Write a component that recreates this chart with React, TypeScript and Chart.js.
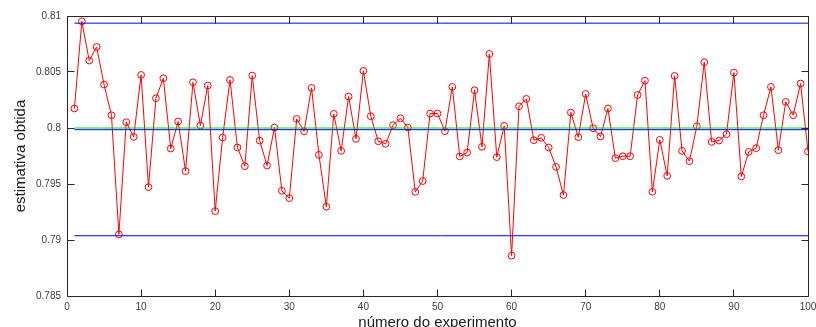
import React, { useEffect, useRef } from 'react';
import { Chart, registerables } from 'chart.js';

Chart.register(...registerables);

const estimates = [
  0.80174, 0.80952, 0.80602, 0.80724, 0.80388, 0.80114, 0.7905, 0.80052, 0.79921, 0.80474,
  0.79472, 0.80266, 0.80444, 0.79817, 0.80058, 0.79615, 0.80408, 0.80022, 0.80379, 0.79258,
  0.79915, 0.80429, 0.79826, 0.79659, 0.80468, 0.79888, 0.79665, 0.80004, 0.79439, 0.79374,
  0.80081, 0.79971, 0.80358, 0.7976, 0.79297, 0.80126, 0.79796, 0.80281, 0.79903, 0.8051,
  0.80105, 0.79882, 0.79859, 0.80025, 0.80087, 0.80004, 0.7943, 0.79526, 0.80129, 0.80129,
  0.79971, 0.80367, 0.79746, 0.79781, 0.80337, 0.79832, 0.80661, 0.7974, 0.80019, 0.7886,
  0.80194, 0.8026, 0.79891, 0.79912, 0.79826, 0.79653, 0.79401, 0.80138, 0.79918, 0.80304,
  0.79998, 0.79924, 0.80174, 0.79731, 0.79748, 0.79748, 0.80295, 0.80423, 0.7943, 0.79894,
  0.79573, 0.80465, 0.79796, 0.79704, 0.80016, 0.80587, 0.79876, 0.79888, 0.79945, 0.80495,
  0.79567, 0.79787, 0.7982, 0.80114, 0.80367, 0.79802, 0.80233, 0.80114, 0.80397, 0.7979,
];
const experiments = estimates.map((_, i) => i + 1);

const xTicks = [0, 10, 20, 30, 40, 50, 60, 70, 80, 90, 100];
const yTicks = [0.785, 0.79, 0.795, 0.8, 0.805, 0.81];

const trueValue = 0.8;
const meanEstimate = 0.79985;
const upperLimit = 0.80936;
const lowerLimit = 0.79038;

const xTitle = 'número do experimento';
const yTitle = 'estimativa obtida';

const FONT = '"Liberation Sans", Arial, Helvetica, sans-serif';

const framePlugin = {
  id: 'matlabFrame',
  afterDraw(chart: any) {
    const { ctx, chartArea } = chart;
    const { left, right, top, bottom } = chartArea;
    const xs = chart.scales.x;
    const ys = chart.scales.y;
    const px = (v: number) => Math.floor(v) + 0.5;
    ctx.save();
    ctx.strokeStyle = '#262626';
    ctx.lineWidth = 1;
    ctx.beginPath();
    ctx.rect(px(left), px(top), px(right) - px(left), px(bottom) - px(top));
    const tl = 7;
    for (const t of xTicks) {
      const x = px(xs.getPixelForValue(t));
      ctx.moveTo(x, px(bottom));
      ctx.lineTo(x, px(bottom) - tl);
      ctx.moveTo(x, px(top));
      ctx.lineTo(x, px(top) + tl);
    }
    for (const t of yTicks) {
      const y = px(ys.getPixelForValue(t));
      ctx.moveTo(px(left), y);
      ctx.lineTo(px(left) + tl, y);
      ctx.moveTo(px(right), y);
      ctx.lineTo(px(right) - tl, y);
    }
    ctx.stroke();

    ctx.fillStyle = '#1a1a1a';
    ctx.font = `15px ${FONT}`;
    ctx.textAlign = 'center';
    ctx.textBaseline = 'alphabetic';
    ctx.fillText(xTitle, (left + right) / 2, 327);
    ctx.translate(24.5, (top + bottom) / 2);
    ctx.rotate(-Math.PI / 2);
    ctx.fillText(yTitle, 0, 0);
    ctx.restore();
  },
};

const fmt = (v: number) => String(parseFloat(v.toFixed(3)));

export default function App() {
  const ref = useRef<HTMLCanvasElement | null>(null);

  useEffect(() => {
    document.body.style.margin = '0';
    const canvas = ref.current;
    if (!canvas) return;
    const line = (y: number) => [
      { x: experiments[0], y },
      { x: experiments[experiments.length - 1], y },
    ];
    const refLine = (data: any, color: string) => ({
      data,
      borderColor: color,
      borderWidth: 1,
      pointRadius: 0,
      fill: false,
      order: 1,
    });
    const chart = new Chart(canvas, {
      type: 'line',
      data: {
        datasets: [
          {
            data: experiments.map((x, i) => ({ x, y: estimates[i] })),
            borderColor: '#ff0000',
            borderWidth: 1,
            pointStyle: 'circle',
            pointRadius: 3.4,
            pointBorderWidth: 1,
            pointBackgroundColor: 'rgba(0,0,0,0)',
            pointBorderColor: '#ff0000',
            fill: false,
            tension: 0,
            order: 2,
          },
          refLine(line(upperLimit), '#0000ff'),
          refLine(line(lowerLimit), '#0000ff'),
          refLine(line(meanEstimate), '#0000ff'),
          refLine(line(trueValue), '#00dd00'),
        ],
      },
      options: {
        animation: false,
        responsive: false,
        devicePixelRatio: 1,
        events: [],
        layout: { padding: { top: 16, right: 8, left: 0, bottom: 0 } },
        plugins: { legend: { display: false }, tooltip: { enabled: false } },
        scales: {
          x: {
            type: 'linear',
            min: 0,
            max: 100,
            afterFit: (s: any) => { s.height = 31; s.paddingLeft = 0; s.paddingRight = 0; },
            afterBuildTicks: (s: any) => { s.ticks = xTicks.map((value) => ({ value })); },
            grid: { display: false, drawTicks: false },
            border: { display: false },
            ticks: {
              padding: 5,
              maxRotation: 0,
              autoSkip: false,
              color: '#404040',
              font: { family: FONT, size: 10 },
              callback: (v: any) => String(v),
            },
          },
          y: {
            type: 'linear',
            min: 0.785,
            max: 0.81,
            afterFit: (s: any) => { s.width = 67; s.paddingTop = 0; s.paddingBottom = 0; },
            afterBuildTicks: (s: any) => { s.ticks = yTicks.map((value) => ({ value })); },
            grid: { display: false, drawTicks: false },
            border: { display: false },
            ticks: {
              padding: 6,
              autoSkip: false,
              color: '#404040',
              font: { family: FONT, size: 10 },
              callback: (v: any) => fmt(Number(v)),
            },
          },
        },
      },
      plugins: [framePlugin],
    } as any);
    return () => chart.destroy();
  }, []);

  return (
    <div style={{ width: 816, height: 327, background: '#fff' }}>
      <canvas ref={ref} width={816} height={327} style={{ display: 'block' }} />
    </div>
  );
}
